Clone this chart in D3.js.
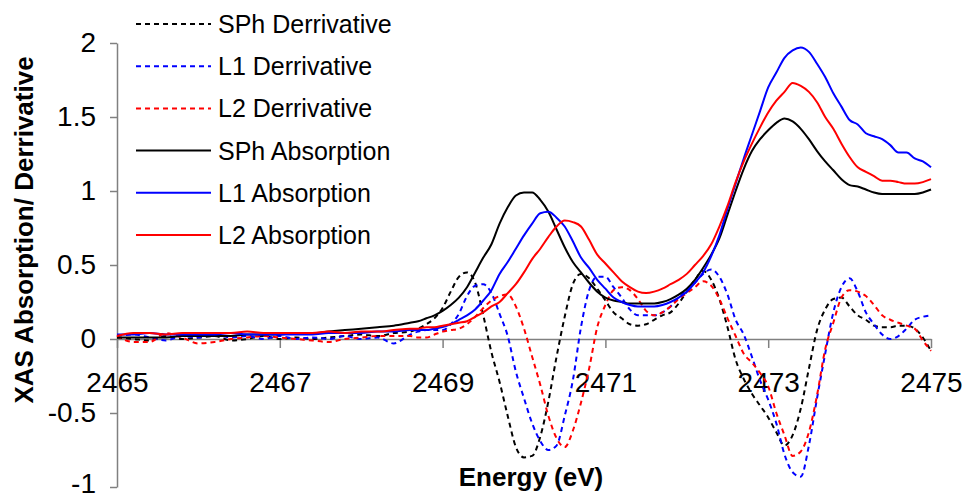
<!DOCTYPE html>
<html>
<head>
<meta charset="utf-8">
<script src="https://cdn.jsdelivr.net/npm/d3@7"></script>
<style>
  body { margin: 0; background: #fff; }
  text { font-family: "Liberation Sans", Arial, sans-serif; }
</style>
</head>
<body>
<div id="wrapper"></div>
<script>
// energy grid (eV) shared by all six series
const energy = [
    2465.0, 2465.2, 2465.4, 2465.6, 2465.8, 2466.0, 2466.2, 2466.4, 2466.6, 2466.8,
    2467.0, 2467.2, 2467.4, 2467.6, 2467.8, 2468.0, 2468.2, 2468.4,
    2468.6, 2468.7, 2468.8, 2468.9, 2469.0, 2469.1, 2469.2, 2469.3, 2469.4, 2469.5, 2469.6, 2469.7, 2469.8, 2469.9,
    2470.0, 2470.1, 2470.2, 2470.3, 2470.4, 2470.5, 2470.6, 2470.7, 2470.8, 2470.9,
    2471.0, 2471.1, 2471.2, 2471.3, 2471.4, 2471.5, 2471.6, 2471.7, 2471.8, 2471.9,
    2472.0, 2472.1, 2472.2, 2472.3, 2472.4, 2472.5, 2472.6, 2472.7, 2472.8, 2472.9,
    2473.0, 2473.1, 2473.2, 2473.3, 2473.4, 2473.5, 2473.6, 2473.7, 2473.8, 2473.9,
    2474.0, 2474.1, 2474.2, 2474.3, 2474.4, 2474.5, 2474.6, 2474.7, 2474.8, 2474.9,
    2475.0
];

const sphDeriv = [
    0.01, 0.00, -0.01, 0.02, 0.00, 0.01, 0.02, -0.01, 0.00, 0.02,
    0.00, 0.01, 0.00, 0.01, 0.02, 0.03, 0.02, 0.04,
    0.05, 0.07, 0.10, 0.14, 0.21, 0.32, 0.42, 0.45, 0.38, 0.16, -0.09, -0.29, -0.52, -0.73,
    -0.80, -0.79, -0.66, -0.42, -0.12, 0.15, 0.37, 0.44, 0.41, 0.34,
    0.26, 0.18, 0.14, 0.10, 0.09, 0.10, 0.13, 0.16, 0.18, 0.24,
    0.32, 0.40, 0.46, 0.40, 0.27, 0.08, -0.14, -0.27, -0.37, -0.45,
    -0.53, -0.63, -0.72, -0.65, -0.47, -0.20, 0.06, 0.20, 0.27, 0.28,
    0.22, 0.16, 0.13, 0.09, 0.08, 0.08, 0.09, 0.09, 0.07, 0.01,
    -0.08
];

const l1Deriv = [
    0.02, 0.03, 0.01, -0.01, 0.02, 0.01, 0.03, 0.01, 0.02, 0.00,
    0.02, 0.00, 0.01, 0.00, 0.02, 0.00, 0.01, -0.03,
    0.03, 0.05, 0.06, 0.06, 0.06, 0.10, 0.17, 0.29, 0.36, 0.37, 0.31, 0.17, 0.02, -0.22,
    -0.40, -0.57, -0.69, -0.75, -0.72, -0.52, -0.28, 0.08, 0.33, 0.42,
    0.42, 0.35, 0.28, 0.20, 0.16, 0.16, 0.16, 0.18, 0.22, 0.28,
    0.33, 0.38, 0.44, 0.47, 0.42, 0.30, 0.13, 0.03, -0.12, -0.28,
    -0.41, -0.57, -0.78, -0.90, -0.93, -0.72, -0.40, -0.10, 0.18, 0.35,
    0.41, 0.32, 0.18, 0.10, 0.03, 0.00, 0.02, 0.07, 0.13, 0.15,
    0.16
];

const l2Deriv = [
    0.02, -0.02, -0.02, 0.04, 0.01, -0.03, -0.02, 0.00, 0.01, 0.02,
    0.01, 0.00, -0.01, -0.02, 0.00, 0.01, 0.02, 0.02,
    0.02, 0.01, 0.01, 0.03, 0.05, 0.06, 0.07, 0.10, 0.15, 0.21, 0.26, 0.29, 0.30, 0.22,
    0.07, -0.12, -0.31, -0.52, -0.67, -0.73, -0.62, -0.43, -0.20, 0.08,
    0.23, 0.33, 0.35, 0.33, 0.27, 0.19, 0.16, 0.18, 0.22, 0.27,
    0.31, 0.35, 0.39, 0.36, 0.27, 0.14, 0.02, -0.10, -0.16, -0.23,
    -0.32, -0.50, -0.65, -0.79, -0.76, -0.63, -0.38, -0.07, 0.11, 0.28,
    0.33, 0.32, 0.29, 0.23, 0.16, 0.13, 0.11, 0.09, 0.07, -0.01,
    -0.08
];

const sphAbs = [
    0.01, 0.01, 0.01, 0.01, 0.02, 0.02, 0.02, 0.02, 0.03, 0.03,
    0.03, 0.04, 0.04, 0.05, 0.06, 0.07, 0.08, 0.09,
    0.11, 0.12, 0.14, 0.16, 0.19, 0.23, 0.28, 0.35, 0.45, 0.55, 0.64, 0.78, 0.89, 0.97,
    0.99, 0.99, 0.94, 0.86, 0.74, 0.62, 0.52, 0.45, 0.38, 0.32,
    0.28, 0.26, 0.25, 0.24, 0.24, 0.24, 0.24, 0.25, 0.27, 0.30,
    0.34, 0.40, 0.48, 0.57, 0.68, 0.84, 1.00, 1.15, 1.27, 1.35,
    1.41, 1.46, 1.49, 1.47, 1.42, 1.35, 1.27, 1.20, 1.14, 1.08,
    1.04, 1.03, 1.01, 0.99, 0.98, 0.98, 0.98, 0.98, 0.98, 0.99,
    1.01
];

const l1Abs = [
    0.03, 0.03, 0.04, 0.03, 0.03, 0.03, 0.03, 0.04, 0.03, 0.03,
    0.03, 0.03, 0.03, 0.04, 0.04, 0.04, 0.05, 0.05,
    0.06, 0.06, 0.06, 0.07, 0.08, 0.10, 0.13, 0.16, 0.20, 0.26, 0.33, 0.44, 0.52, 0.61,
    0.70, 0.78, 0.85, 0.86, 0.82, 0.76, 0.66, 0.55, 0.48, 0.40,
    0.34, 0.28, 0.25, 0.23, 0.22, 0.22, 0.22, 0.23, 0.25, 0.28,
    0.32, 0.38, 0.45, 0.56, 0.70, 0.88, 1.05, 1.22, 1.38, 1.54,
    1.70, 1.80, 1.90, 1.95, 1.97, 1.94, 1.86, 1.77, 1.66, 1.57,
    1.48, 1.45, 1.39, 1.37, 1.35, 1.31, 1.26, 1.26, 1.22, 1.20,
    1.16
];

const l2Abs = [
    0.02, 0.04, 0.04, 0.03, 0.04, 0.04, 0.04, 0.04, 0.05, 0.04,
    0.04, 0.04, 0.04, 0.05, 0.04, 0.05, 0.05, 0.06,
    0.07, 0.07, 0.08, 0.08, 0.09, 0.10, 0.11, 0.12, 0.15, 0.18, 0.22, 0.25, 0.31, 0.37,
    0.45, 0.54, 0.61, 0.69, 0.76, 0.80, 0.79, 0.76, 0.67, 0.57,
    0.51, 0.45, 0.39, 0.35, 0.32, 0.31, 0.32, 0.34, 0.37, 0.40,
    0.44, 0.50, 0.56, 0.64, 0.76, 0.90, 1.06, 1.20, 1.32, 1.43,
    1.53, 1.61, 1.67, 1.73, 1.71, 1.67, 1.60, 1.50, 1.42, 1.32,
    1.23, 1.16, 1.13, 1.10, 1.07, 1.07, 1.06, 1.05, 1.05, 1.06,
    1.08
];

const seriesNames = ["SPh Derrivative", "L1 Derrivative", "L2 Derrivative",
                     "SPh Absorption", "L1 Absorption", "L2 Absorption"];
const xTicks = [2465, 2467, 2469, 2471, 2473, 2475];
const yTicks = [-1, -0.5, 0, 0.5, 1, 1.5, 2];
const xTitle = "Energy (eV)";
const yTitle = "XAS Absorption/ Derrivative";

function buildPlot() {
    const series = [sphDeriv, l1Deriv, l2Deriv, sphAbs, l1Abs, l2Abs];
    const colors = ["#000000", "#0000ff", "#ff0000", "#000000", "#0000ff", "#ff0000"];
    const dashed = [true, true, true, false, false, false];

    var dimension = {
        width: 966,
        height: 498,
        margin: {
            top: 43,
            left: 117,
            bottom: 11,
            right: 35
        }
    };
    dimension.boundedWidth = dimension.width - dimension.margin.left - dimension.margin.right;
    dimension.boundedHeight = dimension.height - dimension.margin.top - dimension.margin.bottom;

    const svg = d3.select("#wrapper").append("svg")
        .attr("width", dimension.width)
        .attr("height", dimension.height)
        .style("display", "block");
    svg.append("rect").attr("width", dimension.width).attr("height", dimension.height).attr("fill", "#fff");

    const bounded = svg.append("g")
        .attr("transform", `translate(${dimension.margin.left},${dimension.margin.top})`);

    const xScaler = d3.scaleLinear()
        .domain([2465, 2475])
        .range([0, dimension.boundedWidth]);
    const yScaler = d3.scaleLinear()
        .domain([-1, 2])
        .range([dimension.boundedHeight, 0]);

    // axes (grey lines, black labels)
    const yAxis = d3.axisLeft(yScaler)
        .tickValues(yTicks)
        .tickSize(7)
        .tickSizeOuter(0)
        .tickPadding(14)
        .tickFormat(d => String(d));
    const yG = bounded.append("g").call(yAxis);

    const xAxis = d3.axisBottom(xScaler)
        .tickValues(xTicks)
        .tickSize(9)
        .tickSizeOuter(0)
        .tickPadding(24)
        .tickFormat(d3.format("d"));
    const xG = bounded.append("g")
        .attr("transform", `translate(0,${yScaler(0)})`)
        .call(xAxis);

    [xG, yG].forEach(g => {
        g.attr("font-family", null).attr("font-size", null);
        g.selectAll("path, line").attr("stroke", "#808080").attr("stroke-width", 1.5);
        g.selectAll("text").attr("fill", "#000").style("font-size", "28px");
    });
    // keep the bottom "-1" label inside the picture
    yG.selectAll(".tick text").filter(d => d === -1).attr("dy", "0.2em");

    // curves
    const lineGenerator = (vals) => d3.line()
        .x((d, i) => xScaler(energy[i]))
        .y(d => yScaler(d))
        .curve(d3.curveMonotoneX)(vals);

    series.forEach((vals, i) => {
        bounded.append("path")
            .attr("d", lineGenerator(vals))
            .attr("fill", "none")
            .attr("stroke", colors[i])
            .attr("stroke-width", 2)
            .attr("stroke-dasharray", dashed[i] ? "5,4" : null);
    });

    // axis titles
    svg.append("text")
        .attr("transform", "translate(33,230) rotate(-90)")
        .attr("text-anchor", "middle")
        .style("font-size", "26px")
        .style("font-weight", "bold")
        .text(yTitle);

    svg.append("text")
        .attr("x", 531)
        .attr("y", 486)
        .attr("text-anchor", "middle")
        .style("font-size", "26px")
        .style("font-weight", "bold")
        .text(xTitle);

    // legend
    const legend = svg.append("g").attr("transform", "translate(136,24)");
    seriesNames.forEach((name, i) => {
        const row = legend.append("g").attr("transform", `translate(0,${i * 42.2})`);
        row.append("line")
            .attr("x1", 0).attr("x2", 75)
            .attr("y1", 0).attr("y2", 0)
            .attr("stroke", colors[i])
            .attr("stroke-width", 2)
            .attr("stroke-dasharray", dashed[i] ? "5,4" : null);
        row.append("text")
            .attr("x", 82)
            .attr("y", 9)
            .style("font-size", "25px")
            .text(name);
    });
}

buildPlot();
</script>
</body>
</html>
